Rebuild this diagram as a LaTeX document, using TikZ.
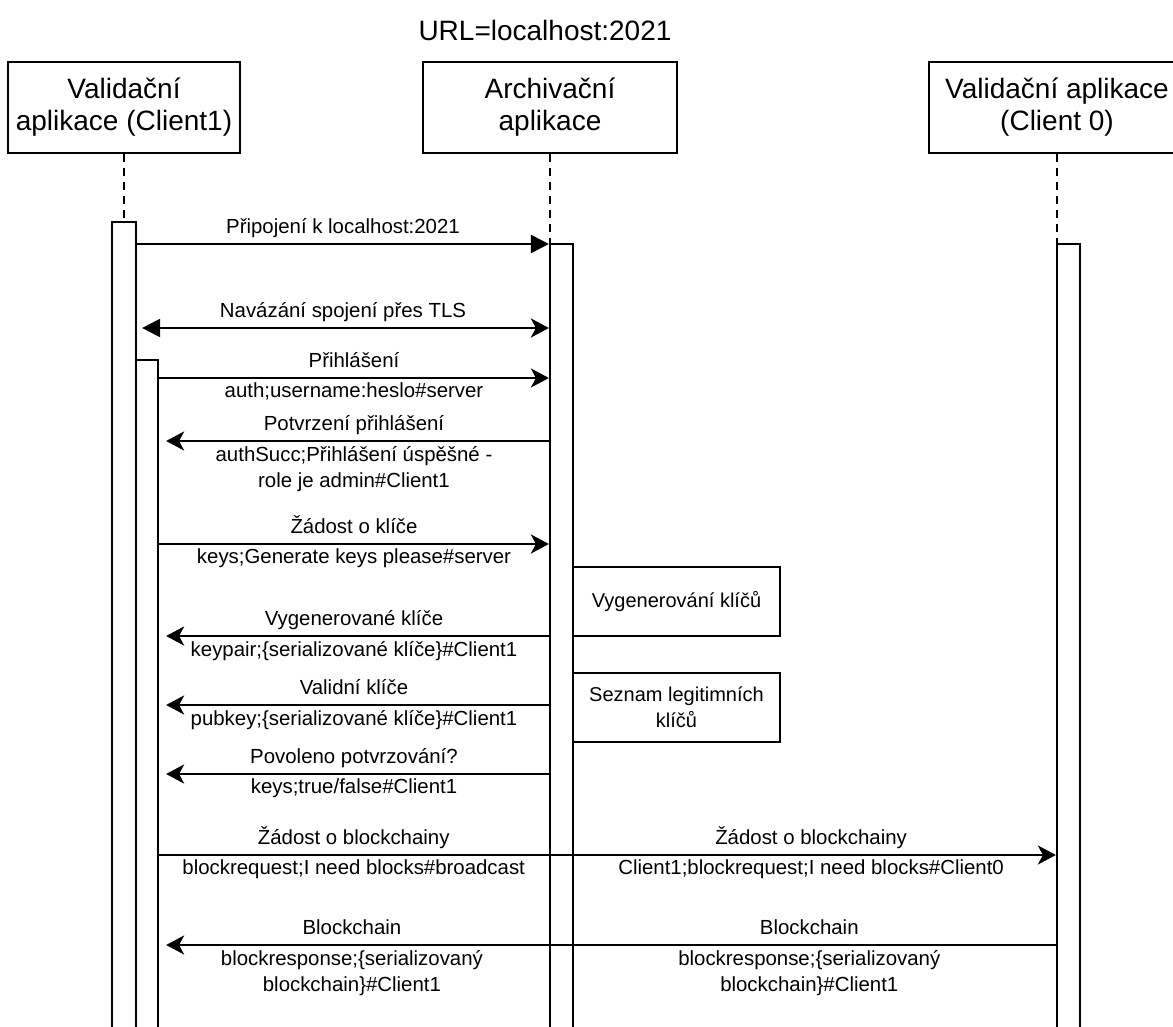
\documentclass[tikz,border=0pt]{standalone}
\usepackage{fontspec}
\setmainfont{Liberation Sans}
\usepackage{tikz}
\usetikzlibrary{arrows.meta}
\tikzset{
	headbox/.style={rectangle, draw, line width=2.2pt, fill=white, align=center, inner sep=0pt, minimum height=91pt, font=\fontsize{28}{32}\selectfont},
	actbox/.style={rectangle, draw, line width=2.2pt, fill=white, anchor=north, minimum width=23pt, minimum height=830pt, inner sep=0pt},
	notebox/.style={rectangle, draw, line width=2.2pt, fill=white, align=center, minimum width=207pt, minimum height=69pt, inner sep=0pt, font=\fontsize{20}{26}\selectfont},
	lifeline/.style={line width=2pt, dash pattern=on 8pt off 6pt},
	msgtext/.style={font=\fontsize{20.4}{26}\selectfont, align=center, inner sep=1pt},
	msgtop/.style={msgtext, above=3pt, text depth=5pt},
	msgbot/.style={msgtext, below=3pt}
}
\tikzset{
	msg/.style={line width=2.2pt, -{Stealth[length=18pt, width=19pt, inset=5pt]}},
	msgtri/.style={line width=2.2pt, -{Triangle[length=18pt, width=18pt]}},
	msgboth/.style={line width=2.2pt, {Triangle[length=18pt, width=18pt]}-{Stealth[length=18pt, width=19pt, inset=5pt]}}
}

\begin{document}
\begin{tikzpicture}[x=1pt, y=-1pt]
		\useasboundingbox (0,0) rectangle (1173,1026);
		\clip (0,0) rectangle (1173,1026);
		\node[font=\fontsize{28}{32}\selectfont] at (545,30) (url) {URL=localhost:2021};
		%heads
		\node[headbox, minimum width=232pt] at (124,107.5) (client1) {Validační\\aplikace (Client1)};
		\node[headbox, minimum width=254pt] at (550,107.5) (archiv) {Archivační\\aplikace};
		\node[headbox, minimum width=256pt] at (1057,107.5) (client0) {Validační aplikace\\(Client 0)};
		%activations
		\node[actbox, minimum width=24pt] at (124,221) (act1) {};
		\node[actbox, minimum width=22pt] at (147,359) (act1in) {};
		\node[actbox] at (561.5,243) (act2) {};
		\node[actbox] at (1068.5,243) (act3) {};
		\node[notebox] at (676.5,601.5) (gen) {Vygenerování klíčů};
		\node[notebox] at (676.5,707.5) (seznam) {Seznam legitimních\\klíčů};
		%Lines
		\draw[lifeline] (client1.south) -- (act1.north);
		\draw[lifeline] (archiv.south) -- (archiv.south |- act2.north);
		\draw[lifeline] (client0.south) -- (client0.south |- act3.north);
		
		\coordinate (m1) at (0,244);
		\coordinate (m2) at (0,328);
		\coordinate (m3) at (0,378);
		\coordinate (m4) at (0,441);
		\coordinate (m5) at (0,544);
		\coordinate (m6) at (0,636);
		\coordinate (m7) at (0,705);
		\coordinate (m8) at (0,774);
		\coordinate (m9) at (0,855);
		\coordinate (m10) at (0,945);
		
		\draw[msgtri] (act1.east |- m1) -- node[msgtop] {Připojení k localhost:2021} (act2.west |- m1);
		\draw[msgboth, shorten <=5pt] (act1.east |- m2) -- node[msgtop] {Navázání spojení přes TLS} (act2.west |- m2);
		\draw[msg] (act1in.east |- m3) -- node[msgtop] {Přihlášení} node[msgbot] {auth;username:heslo\#server} (act2.west |- m3);
		\draw[msg, shorten >=7pt] (act2.west |- m4) -- node[msgtop] {Potvrzení přihlášení} node[msgbot] {authSucc;Přihlášení úspěšné -\\role je admin\#Client1} (act1in.east |- m4);
		\draw[msg] (act1in.east |- m5) -- node[msgtop] {Žádost o klíče} node[msgbot] {keys;Generate keys please\#server} (act2.west |- m5);
		\draw[msg, shorten >=7pt] (act2.west |- m6) -- node[msgtop] {Vygenerované klíče} node[msgbot] {keypair;\{serializované klíče\}\#Client1} (act1in.east |- m6);
		\draw[msg, shorten >=7pt] (act2.west |- m7) -- node[msgtop] {Validní klíče} node[msgbot] {pubkey;\{serializované klíče\}\#Client1} (act1in.east |- m7);
		\draw[msg, shorten >=7pt] (act2.west |- m8) -- node[msgtop] {Povoleno potvrzování?} node[msgbot] {keys;true/false\#Client1} (act1in.east |- m8);
		
		\draw[msg] (act1in.east |- m9) -- node[msgtop, pos=0.217] {Žádost o blockchainy} node[msgbot, pos=0.217] {blockrequest;I need blocks\#broadcast}
			node[msgtop, pos=0.727] {Žádost o blockchainy} node[msgbot, pos=0.727] {Client1;blockrequest;I need blocks\#Client0} (act3.west |- m9);
		\draw[msg, shorten >=7pt] (act3.west |- m10) -- node[msgtop, pos=0.275] {Blockchain} node[msgbot, pos=0.275] {blockresponse;\{serializovaný\\blockchain\}\#Client1}
			node[msgtop, pos=0.785] {Blockchain} node[msgbot, pos=0.785] {blockresponse;\{serializovaný\\blockchain\}\#Client1} (act1in.east |- m10);
	\end{tikzpicture}
\end{document}
